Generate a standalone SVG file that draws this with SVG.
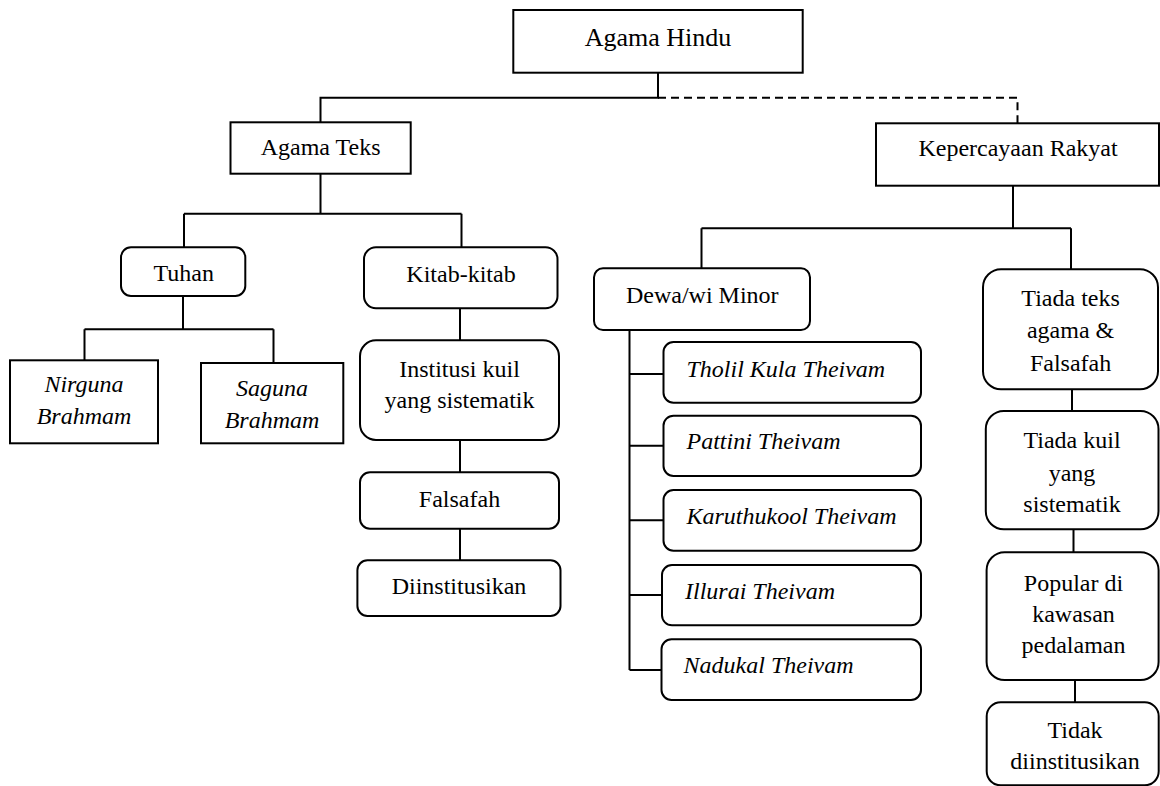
<svg xmlns="http://www.w3.org/2000/svg" width="1160" height="786" viewBox="0 0 1160 786" font-family="'Liberation Serif', 'Times New Roman', serif" font-size="24">
<style>
.box{fill:#fff;stroke:#000;stroke-width:2}
.ln{fill:none;stroke:#000;stroke-width:2}
.dash{fill:none;stroke:#000;stroke-width:2;stroke-dasharray:8 5}
.c{text-anchor:middle}
.i{font-style:italic}
</style>
<rect width="1160" height="786" fill="#fff"/>
<g id="connectors">
<path class="ln" d="M658 72.7V97.7H320.5V122.3"/>
<path class="dash" d="M658 97.7H1017.5V123.3"/>
<path class="ln" d="M320.5 173.7V213.7M184 213.7H461.5M184 213.7V247.3M461.5 213.7V247.3"/>
<path class="ln" d="M183 296V329.3M84.5 329.3H273.5M84.5 329.3V360.3M273.5 329.3V363"/>
<path class="ln" d="M460 308.3V340.3M460 440V472.3M460 528.7V560.3"/>
<path class="ln" d="M1013 185.7V228.3M701.5 228.3H1071M701.5 228.3V268.3M1071 228.3V269.3"/>
<path class="ln" d="M629.5 330V670M629.5 374H663.5M629.5 445.7H663.5M629.5 520.3H663.5M629.5 595H662M629.5 670H661.5"/>
<path class="ln" d="M1072 389.3V411M1073.5 529.3V552.3M1075 680V702.3"/>
</g>
<g id="agama-hindu"><rect class="box" x="513.3" y="10" width="289.4" height="62.7"/><text class="c" x="658" y="46" font-size="26">Agama Hindu</text></g>
<g id="agama-teks"><rect class="box" x="230.5" y="122.3" width="180.2" height="51.4"/><text class="c" x="320.6" y="155.3">Agama Teks</text></g>
<g id="kepercayaan-rakyat"><rect class="box" x="876" y="123.3" width="283" height="62.4"/><text class="c" x="1018" y="156">Kepercayaan Rakyat</text></g>
<g id="tuhan"><rect class="box" x="121" y="247.3" width="124.3" height="48.7" rx="10"/><text class="c" x="183.7" y="281">Tuhan</text></g>
<g id="kitab"><rect class="box" x="364" y="247.3" width="193.5" height="61" rx="12"/><text class="c" x="461" y="282">Kitab-kitab</text></g>
<g id="nirguna"><rect class="box" x="10" y="360.3" width="148" height="83"/><text class="c i" x="84" y="392.3">Nirguna</text><text class="c i" x="84" y="424.3">Brahmam</text></g>
<g id="saguna"><rect class="box" x="201" y="363" width="142.3" height="80.3"/><text class="c i" x="272" y="395.7">Saguna</text><text class="c i" x="272" y="427.7">Brahmam</text></g>
<g id="institusi"><rect class="box" x="360" y="340.3" width="199" height="99.7" rx="16"/><text class="c" x="459.5" y="376.7">Institusi kuil</text><text class="c" x="459.5" y="407.7">yang sistematik</text></g>
<g id="falsafah"><rect class="box" x="360" y="472.3" width="199" height="56.4" rx="10"/><text class="c" x="459.5" y="506.7">Falsafah</text></g>
<g id="diinstitusikan"><rect class="box" x="357.4" y="560.3" width="203.1" height="55.7" rx="10"/><text class="c" x="459" y="594.3">Diinstitusikan</text></g>
<g id="dewa"><rect class="box" x="594" y="268.3" width="216" height="61.7" rx="9"/><text class="c" x="702.3" y="303.3">Dewa/wi Minor</text></g>
<g id="tholil"><rect class="box" x="663.5" y="342" width="257.5" height="60.7" rx="10"/><text class="i" x="686.5" y="376.7">Tholil Kula Theivam</text></g>
<g id="pattini"><rect class="box" x="663.5" y="415.7" width="257.5" height="60.3" rx="10"/><text class="i" x="686.5" y="449.3">Pattini Theivam</text></g>
<g id="karuthukool"><rect class="box" x="663.5" y="490" width="257.5" height="60.7" rx="10"/><text class="i" x="686.5" y="524.3">Karuthukool Theivam</text></g>
<g id="illurai"><rect class="box" x="662" y="565" width="259" height="60.3" rx="10"/><text class="i" x="685" y="598.7">Illurai Theivam</text></g>
<g id="nadukal"><rect class="box" x="661.5" y="639.3" width="259.5" height="60.7" rx="10"/><text class="i" x="683.6" y="673.3">Nadukal Theivam</text></g>
<g id="tiada-teks"><rect class="box" x="983" y="269.3" width="175" height="120" rx="18"/><text class="c" x="1070.6" y="306">Tiada teks</text><text class="c" x="1070.6" y="338.3">agama &amp;</text><text class="c" x="1070.6" y="370.7">Falsafah</text></g>
<g id="tiada-kuil"><rect class="box" x="985.8" y="411" width="172.7" height="118.3" rx="18"/><text class="c" x="1072" y="448.3">Tiada kuil</text><text class="c" x="1072" y="481">yang</text><text class="c" x="1072" y="511.7">sistematik</text></g>
<g id="popular"><rect class="box" x="986.6" y="552.3" width="172" height="127.7" rx="18"/><text class="c" x="1073.5" y="590.7">Popular di</text><text class="c" x="1073.5" y="621.7">kawasan</text><text class="c" x="1073.5" y="652.7">pedalaman</text></g>
<g id="tidak"><rect class="box" x="986.7" y="702.3" width="172" height="83" rx="14"/><text class="c" x="1075" y="738.3">Tidak</text><text class="c" x="1075" y="769.3">diinstitusikan</text></g>
</svg>
